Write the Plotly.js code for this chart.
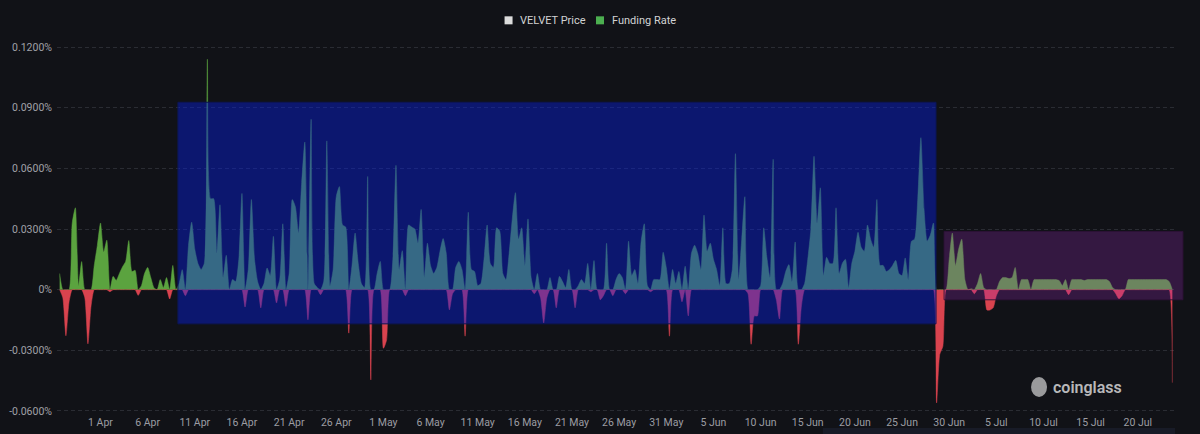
<!DOCTYPE html>
<html><head><meta charset="utf-8">
<script src="https://cdn.plot.ly/plotly-3.0.1.min.js"></script>
<style>html,body{margin:0;padding:0;background:#111217;}#chart{width:1200px;height:434px;}</style>
</head><body><div id="chart"></div>
<script>
// ---- data ----
const startTime = '2025-03-27 16:00';   // first funding sample
const stepHours = 8;                     // funding interval
const seriesName = 'Funding Rate';
const priceName = 'VELVET Price';
// funding rate, in percent
const fundingRate = [
  0.008, -0.004, -0.0228, -0.006, 0.033, 0.0405, 0.002, 0.0139, -0.004, -0.0268,
  -0.008, 0.012, 0.022, 0.033, 0.0187, 0.0245, -0.001, 0.0066, 0.0046, 0.008,
  0.0113, 0.014, 0.0243, 0.009, 0.0096, -0.0028, 0.002, 0.008, 0.011, 0.006,
  0.001, 0.000, 0.005, 0.001, 0.006, -0.0046, 0.012, 0.000, 0.003, 0.0099,
  -0.003, 0.022, 0.0334, 0.020, 0.013, 0.010, 0.013, 0.114, 0.045, 0.045,
  0.018, 0.042, 0.006, 0.017, 0.000, 0.005, 0.004, 0.015, 0.0476, -0.0086,
  0.010, 0.0446, 0.015, 0.004, -0.009, 0.003, 0.0107, 0.007, 0.0264, -0.0066,
  0.005, 0.0326, -0.0083, 0.008, 0.0446, 0.041, 0.028, 0.053, 0.073, -0.0149,
  0.0843, 0.003, 0.001, -0.0025, 0.004, 0.0736, 0.002, 0.010, 0.046, 0.051,
  0.032, 0.031, -0.0215, 0.012, 0.028, 0.013, 0.003, 0.001, 0.056, -0.0446,
  0.000, 0.008, 0.014, -0.029, -0.025, 0.000, 0.015, 0.0615, 0.010, 0.0193,
  -0.003, 0.032, 0.031, 0.030, 0.023, 0.0397, 0.006, 0.023, 0.012, 0.008,
  0.011, 0.019, 0.0253, 0.018, -0.010, -0.002, 0.011, 0.014, 0.010, -0.023,
  0.0383, 0.010, 0.009, 0.002, 0.003, 0.015, 0.032, 0.013, 0.011, 0.0306,
  0.029, 0.008, 0.005, 0.018, 0.035, 0.048, 0.025, 0.0306, 0.012, 0.035,
  0.006, -0.002, 0.008, -0.004, -0.0165, -0.004, 0.006, 0.000, -0.009, 0.0066,
  0.004, 0.001, 0.010, 0.000, -0.009, 0.002, 0.005, 0.003, 0.013, -0.001,
  0.0144, 0.000, -0.005, -0.003, 0.023, 0.000, -0.003, 0.005, 0.008, 0.006,
  -0.002, 0.024, 0.007, 0.010, 0.003, 0.024, 0.0326, 0.002, -0.001, 0.005,
  0.005, 0.005, 0.0185, 0.011, -0.023, 0.010, 0.003, 0.009, -0.006, 0.0116,
  -0.013, 0.018, 0.022, 0.018, 0.010, 0.0369, 0.019, 0.023, 0.015, 0.010,
  0.002, 0.0306, 0.003, 0.003, 0.010, 0.0673, 0.005, 0.025, 0.046, -0.002,
  -0.027, -0.013, -0.013, 0.002, 0.0306, 0.016, 0.006, 0.0645, -0.005, -0.0145,
  0.003, 0.009, 0.0124, 0.004, 0.0236, -0.027, -0.008, 0.003, 0.015, 0.030,
  0.066, 0.033, 0.0504, 0.007, 0.016, 0.013, 0.013, 0.0405, 0.008, 0.013,
  0.015, 0.001, 0.013, 0.019, 0.0284, 0.021, 0.019, 0.032, 0.025, 0.021,
  0.0446, 0.012, 0.012, 0.009, 0.010, 0.012, 0.0145, 0.008, 0.007, 0.0157,
  0.005, 0.024, 0.025, 0.045, 0.0752, 0.040, 0.024, 0.027, 0.033, -0.056,
  -0.032, -0.028, 0.000, 0.015, 0.028, 0.012, 0.020, 0.025, 0.005, 0.000,
  0.0005, -0.002, 0.003, 0.008, 0.001, -0.010, -0.010, -0.009, -0.003, 0.004,
  0.006, 0.006, 0.0055, 0.006, 0.011, 0.000, 0.005, 0.005, 0.005, 0.000,
  0.005, 0.005, 0.005, 0.005, 0.005, 0.005, 0.005, 0.005, 0.0045, 0.002,
  0.005, -0.0025, 0.005, 0.005, 0.005, 0.005, 0.0045, 0.005, 0.005, 0.005,
  0.005, 0.005, 0.005, 0.005, 0.004, 0.001, -0.002, -0.0045, -0.003, 0.000,
  0.005, 0.005, 0.005, 0.005, 0.005, 0.005, 0.005, 0.005, 0.005, 0.005,
  0.005, 0.005, 0.005, 0.004, -0.046
];
const yTickVals = [-0.06, -0.03, 0, 0.03, 0.06, 0.09, 0.12];
const yTickText = ['-0.0600%', '-0.0300%', '0%', '0.0300%', '0.0600%', '0.0900%', '0.1200%'];
const xTickStart = '2025-04-01';
const xTickDays = 5;
const xRange = ['2025-03-27 09:15', '2025-07-23 22:45'];
const yRange = [-0.0615, 0.1245];
// highlighted zones
const blueZoneX = ['2025-04-09 05:00', '2025-06-28 14:30'];
const blueZoneY = [-0.0169, 0.0927];
const purpleZoneX = ['2025-06-29 11:00', '2025-07-24 19:00'];
const purpleZoneY = [-0.005, 0.0288];
// legend entries
const legendNames = [priceName, seriesName];
const legendColors = ['#dcdcdc', '#4caf50'];

// ---- build ----
function toMs(s) { return Date.parse(s.replace(' ', 'T') + ':00Z'); }
function fmt(ms) {
  const d = new Date(ms), p = n => String(n).padStart(2, '0');
  return d.getUTCFullYear() + '-' + p(d.getUTCMonth() + 1) + '-' + p(d.getUTCDate()) + ' ' + p(d.getUTCHours()) + ':' + p(d.getUTCMinutes());
}
const t0 = toMs(startTime);
const times = fundingRate.map((_, i) => fmt(t0 + i * stepHours * 3600000));
const posVals = fundingRate.map(v => v > 0 ? v : 0);
const negVals = fundingRate.map(v => v < 0 ? v : 0);

const GREEN = '#5ba33f', RED = '#d9434e';
const lineCommon = { width: 0.5, shape: 'spline', smoothing: 0.6 };

const traces = [
  { x: times, y: posVals, type: 'scatter', mode: 'lines', fill: 'tozeroy', name: seriesName,
    line: Object.assign({ color: GREEN }, lineCommon), fillcolor: GREEN, showlegend: false, hoverinfo: 'skip' },
  { x: times, y: negVals, type: 'scatter', mode: 'lines', fill: 'tozeroy', name: seriesName,
    line: Object.assign({ color: RED }, lineCommon), fillcolor: RED, showlegend: false, hoverinfo: 'skip' }
];

const xmin = toMs(xRange[0]), xmax = toMs(xRange[1]);
const px = s => (toMs(s) - xmin) / (xmax - xmin);
const py = v => (v - yRange[0]) / (yRange[1] - yRange[0]);

// manual legend (paper coordinates, above the plot)
const legendY = 1.047;
const legendSwatchX = [0.4039, 0.4857];
const legendShapes = legendNames.map((n, i) => ({
  type: 'rect', xref: 'paper', yref: 'paper', xsizemode: 'pixel', ysizemode: 'pixel',
  xanchor: legendSwatchX[i], yanchor: legendY, x0: -4, x1: 4, y0: -4, y1: 4,
  fillcolor: legendColors[i], line: { width: 0 }
}));
const legendTexts = legendNames.map((n, i) => ({
  xref: 'paper', yref: 'paper', x: legendSwatchX[i] + 0.0085, y: legendY, text: n, showarrow: false,
  xanchor: 'left', yanchor: 'middle', font: { size: 11, color: '#d2d2d4' }
}));

const layout = {
  width: 1200, height: 434,
  paper_bgcolor: '#111217', plot_bgcolor: '#111217',
  margin: { l: 57, r: 25, t: 38, b: 20, pad: 0, autoexpand: false },
  font: { family: 'Roboto, "Noto Sans", sans-serif', color: '#a0a1a7', size: 11 },
  showlegend: false,
  xaxis: { type: 'date', range: xRange, tick0: xTickStart, dtick: xTickDays * 86400000,
    tickformat: '%-d %b', showgrid: false, zeroline: false, showline: false, ticks: '',
    tickfont: { size: 10.5, color: '#9c9da3' }, fixedrange: true, automargin: false },
  yaxis: { range: yRange, tickmode: 'array', tickvals: yTickVals, ticktext: yTickText,
    showgrid: true, gridcolor: '#2a2c33', griddash: '4px,3px', gridwidth: 1,
    zeroline: false, showline: false, ticks: '', ticklabelstandoff: 4,
    tickfont: { size: 10.5, color: '#a0a1a7' }, fixedrange: true, automargin: false },
  shapes: [
    { type: 'rect', xref: 'x', yref: 'y', layer: 'above',
      x0: blueZoneX[0], x1: blueZoneX[1], y0: blueZoneY[0], y1: blueZoneY[1],
      fillcolor: 'rgba(6,30,228,0.43)', line: { color: 'rgba(12,22,85,1)', width: 1 } },
    { type: 'rect', xref: 'paper', yref: 'paper', layer: 'above',
      x0: px(purpleZoneX[0]), x1: px(purpleZoneX[1]), y0: py(purpleZoneY[0]), y1: py(purpleZoneY[1]),
      fillcolor: 'rgba(160,42,190,0.25)', line: { color: 'rgba(45,18,55,0.9)', width: 1 } },
    { type: 'circle', xref: 'paper', yref: 'paper', xsizemode: 'pixel', ysizemode: 'pixel',
      xanchor: 0.8784, yanchor: 0.0718, x0: -8, x1: 8, y0: -10, y1: 10,
      fillcolor: '#9a9a9c', line: { width: 0 } },
    { type: 'rect', xref: 'paper', yref: 'paper', x0: 0.685, x1: 1.0, y0: -0.053, y1: -0.037,
      fillcolor: '#181b27', line: { width: 0 } }
  ].concat(legendShapes),
  annotations: [
    { xref: 'paper', yref: 'paper', x: 0.9213, y: 0.0718, text: 'coinglass', showarrow: false,
      font: { size: 16, color: '#b8b8ba', weight: 600 }, xanchor: 'center', yanchor: 'middle' }
  ].concat(legendTexts)
};

Plotly.newPlot('chart', traces, layout, { displayModeBar: false, staticPlot: true });
</script>
</body></html>
